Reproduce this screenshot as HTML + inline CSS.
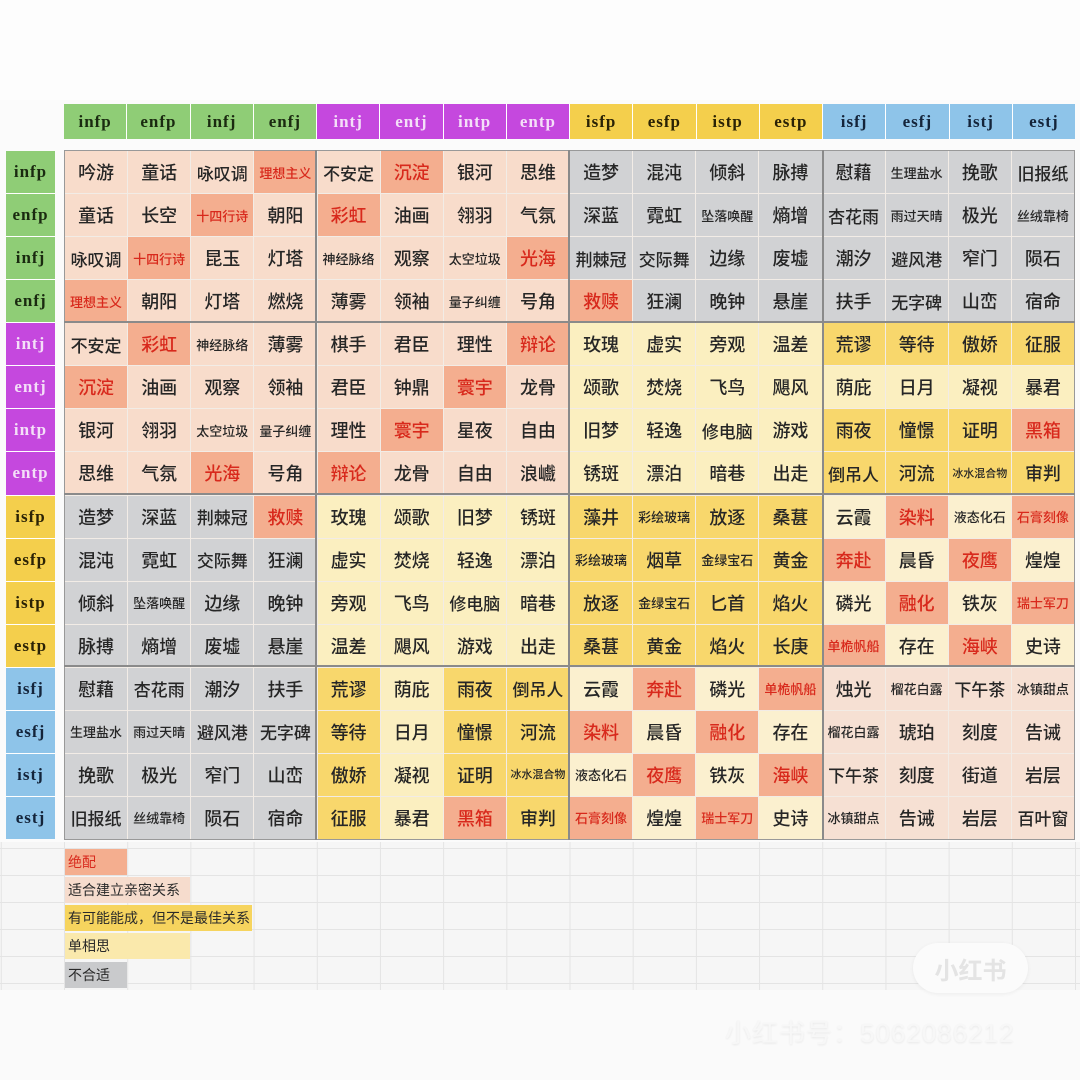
<!DOCTYPE html>
<html><head><meta charset="utf-8"><style>
*{margin:0;padding:0;box-sizing:border-box}
body{width:1080px;height:1080px;background:#fbfbfb;position:relative;overflow:hidden;font-family:"Liberation Sans","Noto Sans CJK SC",sans-serif;}
.top{position:absolute;left:0;top:0;width:1080px;height:100px;background:#fdfdfd}
.hdr{position:absolute;left:64px;top:104px;width:1011px;height:35px;display:grid;grid-template-columns:repeat(16,1fr);gap:1px;background:#fff}
.hdr div,.rl div{font-family:"Liberation Serif",serif;font-weight:bold;font-size:17px;display:flex;align-items:center;justify-content:center;letter-spacing:1px}
.G{background:#8fcd76;color:#1a2a10}.P{background:#c548de;color:#f4dff8}.Y{background:#f4cf4c;color:#2a2205}.B{background:#8ec4e9;color:#14243a}
.rl{position:absolute;left:6px;top:151px;width:49px;height:688px;display:grid;grid-template-rows:repeat(16,1fr);gap:1px;background:#fff}
.grid{position:absolute;left:64px;top:150px;width:1011px;height:690px;display:grid;grid-template-columns:repeat(16,1fr);grid-template-rows:repeat(16,1fr);gap:1px;background:#f2ece6;border:1px solid #999}
.grid div{display:flex;align-items:center;justify-content:center;font-size:18px;line-height:1;color:#262626;white-space:nowrap;overflow:hidden;font-family:"Noto Sans CJK SC",sans-serif;font-weight:500}
.p{background:#f8dccb}.s{background:#f4ae8f;color:#d8291c!important}.g{background:#d1d2d4}.l{background:#fbefc0}.y{background:#f8d76c}.c{background:#fbf0cf}.k{background:#f6e0d3}
.grid div.m{font-size:13px}.grid div.n{font-size:11px}.grid div.t{font-size:17px}
.vl{position:absolute;top:150px;width:2px;height:690px;background:#8a8a8a}
.hl{position:absolute;left:64px;width:1011px;height:2px;background:#8a8a8a}
.bg{position:absolute;left:0;top:842px;width:1080px;height:148px;background:#f6f6f6;
background-image:linear-gradient(#e4e4e4 1px,transparent 1px),linear-gradient(90deg,#e4e4e4 1px,transparent 1px);background-size:63.2px 27px;background-position:64px 6px}
.lg{position:absolute;left:65px;height:26px;font-size:14px;color:#2a2a2a;display:flex;align-items:center;padding-left:3px;font-family:"Noto Sans CJK SC",sans-serif}
.bot{position:absolute;left:0;top:990px;width:1080px;height:90px;background:#fafafa}
</style></head><body>
<div class="top"></div>
<div class="hdr">
<div class="G">infp</div><div class="G">enfp</div><div class="G">infj</div><div class="G">enfj</div>
<div class="P">intj</div><div class="P">entj</div><div class="P">intp</div><div class="P">entp</div>
<div class="Y">isfp</div><div class="Y">esfp</div><div class="Y">istp</div><div class="Y">estp</div>
<div class="B">isfj</div><div class="B">esfj</div><div class="B">istj</div><div class="B">estj</div>
</div>
<div class="rl">
<div class="G">infp</div><div class="G">enfp</div><div class="G">infj</div><div class="G">enfj</div>
<div class="P">intj</div><div class="P">entj</div><div class="P">intp</div><div class="P">entp</div>
<div class="Y">isfp</div><div class="Y">esfp</div><div class="Y">istp</div><div class="Y">estp</div>
<div class="B">isfj</div><div class="B">esfj</div><div class="B">istj</div><div class="B">estj</div>
</div>
<div class="bg"></div>
<div class="grid">
<div class="p">吟游</div><div class="p">童话</div><div class="p t">咏叹调</div><div class="s m">理想主义</div><div class="p t">不安定</div><div class="s">沉淀</div><div class="p">银河</div><div class="p">思维</div><div class="g">造梦</div><div class="g">混沌</div><div class="g">倾斜</div><div class="g">脉搏</div><div class="g">慰藉</div><div class="g m">生理盐水</div><div class="g">挽歌</div><div class="g t">旧报纸</div>
<div class="p">童话</div><div class="p">长空</div><div class="s m">十四行诗</div><div class="p">朝阳</div><div class="s">彩虹</div><div class="p">油画</div><div class="p">翎羽</div><div class="p">气氛</div><div class="g">深蓝</div><div class="g">霓虹</div><div class="g m">坠落唤醒</div><div class="g">熵增</div><div class="g t">杏花雨</div><div class="g m">雨过天晴</div><div class="g">极光</div><div class="g m">丝绒靠椅</div>
<div class="p t">咏叹调</div><div class="s m">十四行诗</div><div class="p">昆玉</div><div class="p">灯塔</div><div class="p m">神经脉络</div><div class="p">观察</div><div class="p m">太空垃圾</div><div class="s">光海</div><div class="g t">荆棘冠</div><div class="g t">交际舞</div><div class="g">边缘</div><div class="g">废墟</div><div class="g">潮汐</div><div class="g t">避风港</div><div class="g">窄门</div><div class="g">陨石</div>
<div class="s m">理想主义</div><div class="p">朝阳</div><div class="p">灯塔</div><div class="p">燃烧</div><div class="p">薄雾</div><div class="p">领袖</div><div class="p m">量子纠缠</div><div class="p">号角</div><div class="s">救赎</div><div class="g">狂澜</div><div class="g">晚钟</div><div class="g">悬崖</div><div class="g">扶手</div><div class="g t">无字碑</div><div class="g">山峦</div><div class="g">宿命</div>
<div class="p t">不安定</div><div class="s">彩虹</div><div class="p m">神经脉络</div><div class="p">薄雾</div><div class="p">棋手</div><div class="p">君臣</div><div class="p">理性</div><div class="s">辩论</div><div class="l">玫瑰</div><div class="l">虚实</div><div class="l">旁观</div><div class="l">温差</div><div class="y">荒谬</div><div class="y">等待</div><div class="y">傲娇</div><div class="y">征服</div>
<div class="s">沉淀</div><div class="p">油画</div><div class="p">观察</div><div class="p">领袖</div><div class="p">君臣</div><div class="p">钟鼎</div><div class="s">寰宇</div><div class="p">龙骨</div><div class="l">颂歌</div><div class="l">焚烧</div><div class="l">飞鸟</div><div class="l">飓风</div><div class="l">荫庇</div><div class="l">日月</div><div class="l">凝视</div><div class="l">暴君</div>
<div class="p">银河</div><div class="p">翎羽</div><div class="p m">太空垃圾</div><div class="p m">量子纠缠</div><div class="p">理性</div><div class="s">寰宇</div><div class="p">星夜</div><div class="p">自由</div><div class="l">旧梦</div><div class="l">轻逸</div><div class="l t">修电脑</div><div class="l">游戏</div><div class="y">雨夜</div><div class="y">憧憬</div><div class="y">证明</div><div class="s">黑箱</div>
<div class="p">思维</div><div class="p">气氛</div><div class="s">光海</div><div class="p">号角</div><div class="s">辩论</div><div class="p">龙骨</div><div class="p">自由</div><div class="p">浪巇</div><div class="l">锈斑</div><div class="l">漂泊</div><div class="l">暗巷</div><div class="l">出走</div><div class="y t">倒吊人</div><div class="y">河流</div><div class="y n">冰水混合物</div><div class="y">审判</div>
<div class="g">造梦</div><div class="g">深蓝</div><div class="g t">荆棘冠</div><div class="s">救赎</div><div class="l">玫瑰</div><div class="l">颂歌</div><div class="l">旧梦</div><div class="l">锈斑</div><div class="y">藻井</div><div class="y m">彩绘玻璃</div><div class="y">放逐</div><div class="y">桑葚</div><div class="c">云霞</div><div class="s">染料</div><div class="c m">液态化石</div><div class="s m">石膏刻像</div>
<div class="g">混沌</div><div class="g">霓虹</div><div class="g t">交际舞</div><div class="g">狂澜</div><div class="l">虚实</div><div class="l">焚烧</div><div class="l">轻逸</div><div class="l">漂泊</div><div class="y m">彩绘玻璃</div><div class="y">烟草</div><div class="y m">金绿宝石</div><div class="y">黄金</div><div class="s">奔赴</div><div class="c">晨昏</div><div class="s">夜鹰</div><div class="c">煌煌</div>
<div class="g">倾斜</div><div class="g m">坠落唤醒</div><div class="g">边缘</div><div class="g">晚钟</div><div class="l">旁观</div><div class="l">飞鸟</div><div class="l t">修电脑</div><div class="l">暗巷</div><div class="y">放逐</div><div class="y m">金绿宝石</div><div class="y">匕首</div><div class="y">焰火</div><div class="c">磷光</div><div class="s">融化</div><div class="c">铁灰</div><div class="s m">瑞士军刀</div>
<div class="g">脉搏</div><div class="g">熵增</div><div class="g">废墟</div><div class="g">悬崖</div><div class="l">温差</div><div class="l">飓风</div><div class="l">游戏</div><div class="l">出走</div><div class="y">桑葚</div><div class="y">黄金</div><div class="y">焰火</div><div class="y">长庚</div><div class="s m">单桅帆船</div><div class="c">存在</div><div class="s">海峡</div><div class="c">史诗</div>
<div class="g">慰藉</div><div class="g t">杏花雨</div><div class="g">潮汐</div><div class="g">扶手</div><div class="y">荒谬</div><div class="l">荫庇</div><div class="y">雨夜</div><div class="y t">倒吊人</div><div class="c">云霞</div><div class="s">奔赴</div><div class="c">磷光</div><div class="s m">单桅帆船</div><div class="k">烛光</div><div class="k m">榴花白露</div><div class="k t">下午茶</div><div class="k m">冰镇甜点</div>
<div class="g m">生理盐水</div><div class="g m">雨过天晴</div><div class="g t">避风港</div><div class="g t">无字碑</div><div class="y">等待</div><div class="l">日月</div><div class="y">憧憬</div><div class="y">河流</div><div class="s">染料</div><div class="c">晨昏</div><div class="s">融化</div><div class="c">存在</div><div class="k m">榴花白露</div><div class="k">琥珀</div><div class="k">刻度</div><div class="k">告诫</div>
<div class="g">挽歌</div><div class="g">极光</div><div class="g">窄门</div><div class="g">山峦</div><div class="y">傲娇</div><div class="l">凝视</div><div class="y">证明</div><div class="y n">冰水混合物</div><div class="c m">液态化石</div><div class="s">夜鹰</div><div class="c">铁灰</div><div class="s">海峡</div><div class="k t">下午茶</div><div class="k">刻度</div><div class="k">街道</div><div class="k">岩层</div>
<div class="g t">旧报纸</div><div class="g m">丝绒靠椅</div><div class="g">陨石</div><div class="g">宿命</div><div class="y">征服</div><div class="l">暴君</div><div class="s">黑箱</div><div class="y">审判</div><div class="s m">石膏刻像</div><div class="c">煌煌</div><div class="s m">瑞士军刀</div><div class="c">史诗</div><div class="k m">冰镇甜点</div><div class="k">告诫</div><div class="k">岩层</div><div class="k t">百叶窗</div>
</div>
<div class="vl" style="left:315px"></div>
<div class="vl" style="left:568px"></div>
<div class="vl" style="left:822px"></div>
<div class="hl" style="top:321px"></div>
<div class="hl" style="top:493px"></div>
<div class="hl" style="top:665px"></div>
<div class="lg" style="top:849px;width:62px;background:#f4ae8f;color:#d8291c">绝配</div>
<div class="lg" style="top:877px;width:125px;background:#f6dccd">适合建立亲密关系</div>
<div class="lg" style="top:905px;width:187px;background:#f6d45e">有可能能成，但不是最佳关系</div>
<div class="lg" style="top:933px;width:125px;background:#fae9ac">单相思</div>
<div class="lg" style="top:962px;width:62px;background:#c9cacc">不合适</div>
<div class="bot"></div>
<div style="position:absolute;left:913px;top:943px;width:115px;height:50px;border-radius:25px;background:#fbfbfb;box-shadow:0 1px 4px rgba(0,0,0,0.06);display:flex;align-items:center;justify-content:center;font-size:24px;font-weight:bold;color:#e4e4e4">小红书</div>
<div style="position:absolute;left:725px;top:1013px;font-size:26px;color:#f7f7f7;text-shadow:0 1px 2px rgba(0,0,0,0.08);letter-spacing:1px">小红书号：5062086212</div>
</body></html>
